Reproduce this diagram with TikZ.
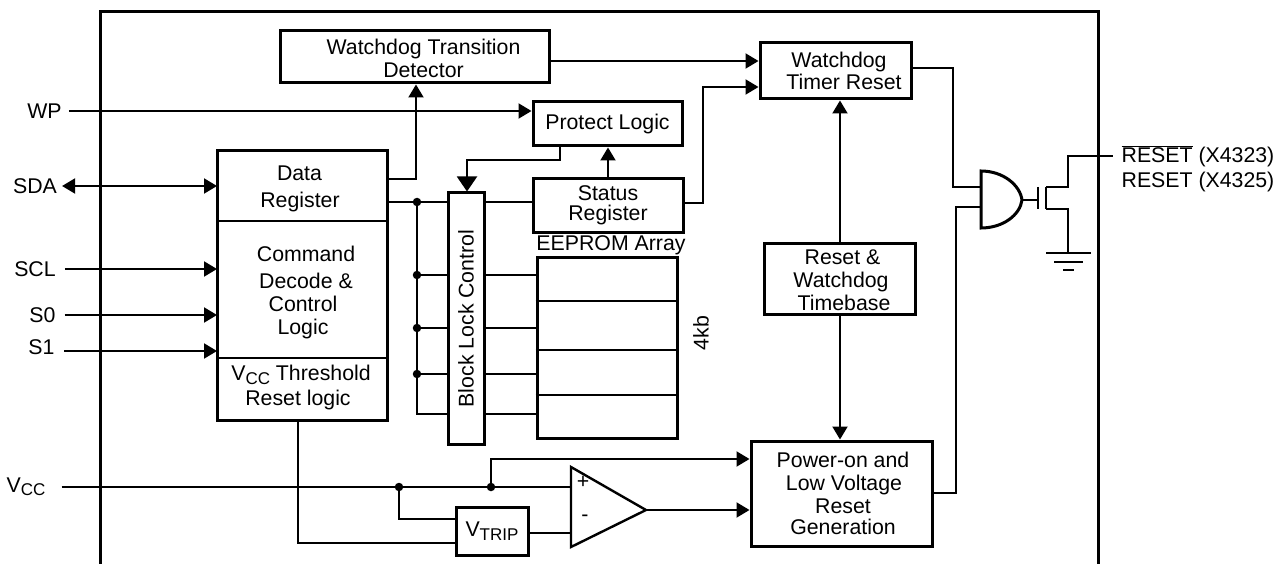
\documentclass[tikz,border=0pt]{standalone}
\usepackage{fontspec}
\setmainfont{Liberation Sans}
\usetikzlibrary{arrows.meta}
\newcommand{\subsc}[1]{\raisebox{-3.5pt}{\fontsize{17}{17}\selectfont #1}}
\tikzstyle{process} = [rectangle, line width=3pt, text centered, align=center, inner sep=0pt, draw=black, fill=white]
\tikzstyle{regbox} = [process, line width=2pt, outer sep=0pt, minimum width=170pt]
\tikzstyle{pinlabel} = [inner ysep=0pt]
\tikzstyle{wire} = [line width=2pt]
\tikzstyle{arrow} = [wire,-{Triangle[length=13pt,width=15pt]}]
\tikzstyle{bigarrow} = [wire,-{Triangle[length=15pt,width=20pt]}]
\tikzstyle{dot} = [circle, fill=black, inner sep=0pt, minimum size=8.5pt]

\begin{document}
\begin{tikzpicture}[x=1pt, y=1pt, node distance=0pt, font=\fontsize{21.3}{23}\selectfont]
\useasboundingbox (0,0) rectangle (1279,-564);

% Outer frame
\draw [line width=3pt] (100,-564) -- (100,-12) -- (1098,-12) -- (1098,-564);

% Upper blocks
\node (WTD) [process, minimum width=269pt, minimum height=52pt, xshift=414.5pt, yshift=-57pt] {\rule{0pt}{17.5pt}\hspace*{18pt}Watchdog Transition\\\hspace*{18pt}Detector};
\node (WTR) [process, below of=WTD, minimum width=151pt, minimum height=56pt, xshift=421pt, yshift=-14pt] {\hspace*{7pt}Watchdog\\[-1pt]\hspace*{17pt}Timer Reset};
\node (PL) [process, below of=WTD, minimum width=149pt, minimum height=44pt, xshift=193pt, yshift=-67pt] {\raisebox{4pt}{Protect Logic}};
\node (SR) [process, below of=PL, minimum width=150pt, minimum height=53pt, xshift=0.5pt, yshift=-81.5pt] {Status\\[-3pt]Register};

% Left register block
\node (DR) [regbox, below of=WTD, minimum height=70pt, xshift=-112.5pt, yshift=-129pt] {\rule{0pt}{19.5pt}\hspace*{-5pt}Data\\[4pt]\hspace*{-4pt}Register};
\node (CD) [regbox, below of=DR, minimum height=137pt, yshift=-103.5pt] {\rule{0pt}{21.5pt}\hspace*{8pt}Command\\[4pt]\hspace*{8pt}Decode \&\\\hspace*{2pt}Control\\\hspace*{2pt}Logic};
\node (TH) [regbox, below of=CD, minimum height=62pt, yshift=-99.5pt] {\hspace*{-2pt}V\subsc{CC} Threshold\\[2pt]\hspace*{-8pt}Reset logic\rule[-7pt]{0pt}{1pt}};
\draw [line width=3pt] (DR.north west) rectangle (TH.south east);

% Memory
\node (BLC) [process, below of=SR, minimum width=36pt, minimum height=251pt, xshift=-142pt, yshift=-113pt] {\rotatebox{90}{Block Lock Control}};
\node (EA) [process, below of=SR, minimum width=140pt, minimum height=181pt, xshift=-1pt, yshift=-142pt] {};
\node (EL) [below of=SR, inner sep=0pt, xshift=3pt, yshift=-39.5pt] {EEPROM Array};
\node (FK) [below of=EA, inner sep=0pt, xshift=94pt, yshift=14.5pt] {\rotatebox{90}{4kb}};

% Lower right blocks
\node (RT) [process, below of=WTR, minimum width=151pt, minimum height=71pt, xshift=4.5pt, yshift=-207.5pt] {\rule{0pt}{17.5pt}\hspace*{5pt}Reset \&\\\hspace*{2pt}Watchdog\\\hspace*{8pt}Timebase};
\node (PG) [process, below of=RT, minimum width=181pt, minimum height=105pt, xshift=1.5pt, yshift=-215pt] {\hspace*{3pt}Power-on and\\\hspace*{5pt}Low Voltage\\\hspace*{3pt}Reset\\[-2pt]\hspace*{3pt}Generation};
\node (VT) [process, below of=TH, minimum width=72pt, minimum height=48pt, xshift=190pt, yshift=-142pt] {V\subsc{TRIP}};

% Pins
\node (WP) [pinlabel, below of=WTD, inner xsep=7pt, xshift=-370pt, yshift=-54pt] {WP};
\node (SDA) [pinlabel, below of=WP, inner xsep=5pt, xshift=-9.5pt, yshift=-75pt] {SDA};
\node (SCL) [pinlabel, below of=SDA, inner xsep=9pt, yshift=-83pt] {SCL};
\node (S0) [pinlabel, below of=SCL, inner xsep=9pt, xshift=7.5pt, yshift=-46pt] {S0};
\node (S1) [pinlabel, below of=S0, inner xsep=10pt, xshift=-1pt, yshift=-32pt] {S1};
\node (VCC) [pinlabel, below of=S1, inner xsep=16pt, xshift=-15.5pt, yshift=-140pt] {V\subsc{CC}};
\node (RST) [below of=WTR, align=left, inner sep=0pt, xshift=362.5pt, yshift=-98pt] {$\overline{\mbox{RESET}}$ (X4323)\\[2pt]RESET (X4325)};

% Bends and junctions
\coordinate (B0) at (417,-202);
\coordinate (B1) at (417,-275);
\coordinate (B2) at (417,-328);
\coordinate (B3) at (417,-374);
\coordinate (B4) at (417,-414);
\coordinate (R1) at (537,-301);
\coordinate (R2) at (537,-350);
\coordinate (R3) at (537,-395);
\coordinate (C1) at (703,-203);
\coordinate (C2) at (703,-87);
\coordinate (C3) at (416,-179);
\coordinate (C4) at (560,-160);
\coordinate (C5) at (467,-160);
\coordinate (C6) at (703,-61);
\coordinate (C13) at (64,-351);
\coordinate (D1) at (399,-487);
\coordinate (D2) at (491,-487);
\coordinate (C7) at (491,-459);
\coordinate (C8) at (399,-519);
\coordinate (C9) at (298,-543);
\coordinate (C10) at (571,-533);
\coordinate (AP) at (571,-487);
\coordinate (AT) at (571,-467);
\coordinate (AB) at (571,-547);
\coordinate (AO) at (646,-510);
\coordinate (C11) at (953,-68);
\coordinate (C12) at (956,-493);
\coordinate (GT) at (981,-171);
\coordinate (GL) at (981,-228);
\coordinate (GO) at (1022,-200);
\coordinate (GA) at (981,-187);
\coordinate (GB) at (981,-207.5);
\coordinate (MG) at (1038,-200);
\coordinate (MU) at (1046,-187);
\coordinate (ML) at (1046,-209);
\coordinate (MD) at (1068,-187);
\coordinate (MN) at (1068,-156);
\coordinate (MO) at (1113,-156);
\coordinate (MS) at (1068,-209);
\coordinate (MB) at (1068,-253);

% Connecting arrows
\draw [arrow] (C6 -| WTD.east) -- (C6 -| WTR.west);
\draw [arrow] (C1 -| SR.east) -- (C1) -- (C2) -- (C2 -| WTR.west);
\draw [arrow] (C3 -| DR.east) -- (C3) -- (C3 |- WTD.south);
\draw [arrow] (WP.east) -- (WP.east -| PL.west);
\draw [bigarrow] (C4 |- PL.south) -- (C4) -- (C5) -- (C5 |- BLC.north);
\draw [arrow] (SR.north) -- (SR.north |- PL.south);
\draw [wire,{Triangle[length=13pt,width=15pt]}-{Triangle[length=13pt,width=15pt]}] (SDA.east) -- (SDA.east -| DR.west);
\draw [arrow] (SCL.east) -- (SCL.east -| CD.west);
\draw [arrow] (S0.east) -- (S0.east -| CD.west);
\draw [arrow] (C13) -- (C13 -| CD.west);
\draw [arrow] (RT.north) -- (RT.north |- WTR.south);
\draw [arrow] (RT.south) -- (RT.south |- PG.north);

% Bus to the memory
\draw [wire] (B0 -| DR.east) -- (B0 -| BLC.west);
\draw [wire] (B0 -| BLC.east) -- (B0 -| SR.west);
\draw [wire] (B0) -- (B4) -- (B4 -| BLC.west);
\draw [wire] (B1) -- (B1 -| BLC.west);
\draw [wire] (B2) -- (B2 -| BLC.west);
\draw [wire] (B3) -- (B3 -| BLC.west);
\draw [wire] (B1 -| BLC.east) -- (B1 -| EA.west);
\draw [wire] (B2 -| BLC.east) -- (B2 -| EA.west);
\draw [wire] (B3 -| BLC.east) -- (B3 -| EA.west);
\draw [wire] (B4 -| BLC.east) -- (B4 -| EA.west);
\draw [wire] (R1 -| EA.west) -- (R1 -| EA.east);
\draw [wire] (R2 -| EA.west) -- (R2 -| EA.east);
\draw [wire] (R3 -| EA.west) -- (R3 -| EA.east);
\node (J0) [dot] at (B0) {};
\node (J1) [dot] at (B1) {};
\node (J2) [dot] at (B2) {};
\node (J3) [dot] at (B3) {};

% Supply and comparator
\draw [wire] (VCC.east) -- (AP);
\draw [arrow] (D2) -- (C7) -- (C7 -| PG.west);
\draw [wire] (D1) -- (C8) -- (C8 -| VT.west);
\draw [wire] (C9 |- TH.south) -- (C9) -- (C9 -| VT.west);
\draw [wire] (C10 -| VT.east) -- (C10);
\draw [line width=2.4pt, line join=miter, fill=white] (AT) -- (AB) -- (AO) -- cycle;
\draw [arrow] (AO) -- (AO -| PG.west);
\node (AMP) [inner sep=0pt] at (583,-482) {+};
\node (AMM) [inner sep=0pt] at (585,-518) {-};
\node (J4) [dot] at (D1) {};
\node (J5) [dot] at (D2) {};

% Output gate and transistor
\draw [wire] (C11 -| WTR.east) -- (C11) -- (C11 |- GA) -- (GA);
\draw [wire] (C12 -| PG.east) -- (C12) -- (C12 |- GB) -- (GB);
\draw [line width=3pt, fill=white] (GT) .. controls (1003,-171) and (1020,-185) .. (GO) .. controls (1020,-215) and (1003,-228) .. (GL) -- cycle;
\draw [wire] (GO) -- (MG);
\draw [wire] (MG |- MU) -- (MG |- ML);
\draw [wire] (MU) -- (ML);
\draw [wire] (MU) -- (MD) -- (MN) -- (MO);
\draw [wire] (ML) -- (MS) -- (MB);

% Ground
\draw [wire] (1046,-253) -- (1091,-253);
\draw [wire] (1054,-262) -- (1083,-262);
\draw [wire] (1063,-270) -- (1074,-270);

\end{tikzpicture}
\end{document}
